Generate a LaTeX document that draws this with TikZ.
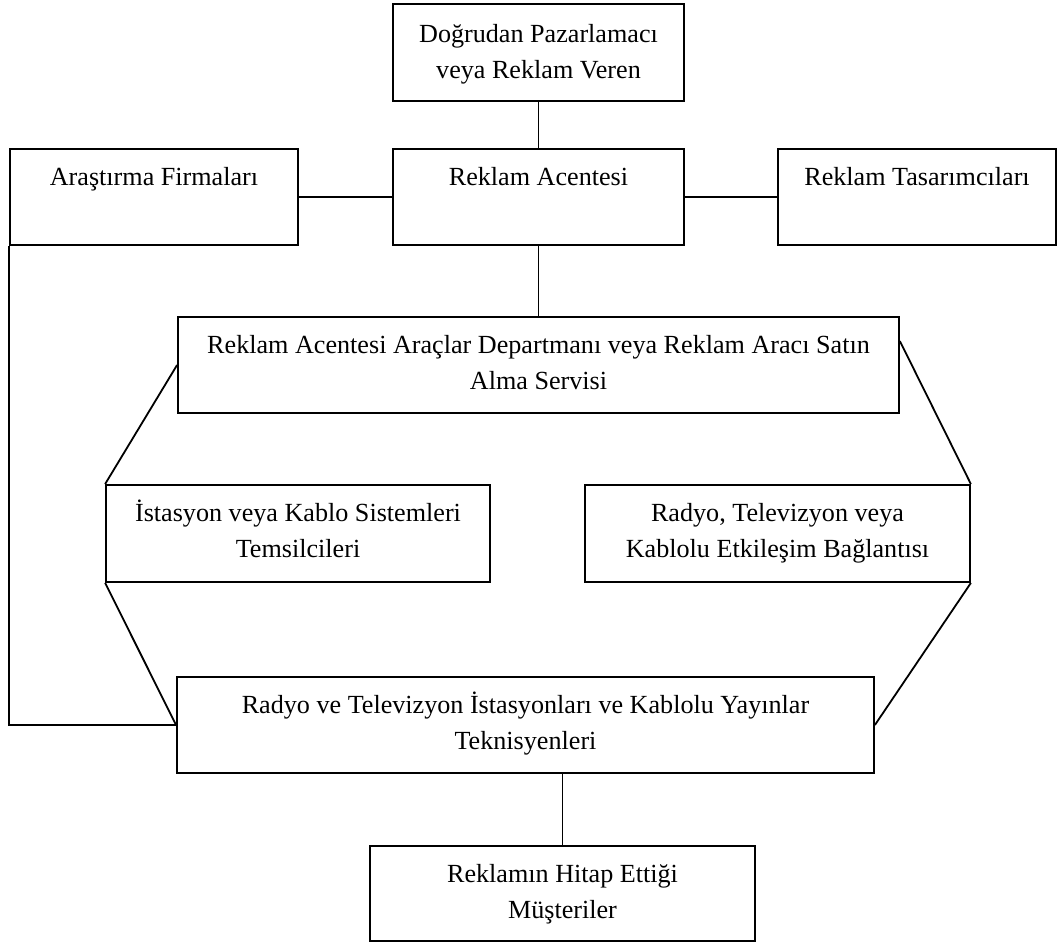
\documentclass[tikz,border=0pt]{standalone}
\usepackage{fontspec}
\setmainfont{Liberation Serif}
\usetikzlibrary{fit}
\begin{document}
\begin{tikzpicture}[x=0.75pt,y=-0.75pt,
  box/.style={draw=black, line width=1.35pt, inner sep=0pt},
  lbl/.style={anchor=north, inner sep=0pt, align=center, font=\fontsize{19.6}{27}\selectfont},
  conn/.style={draw=black, line width=1.35pt}]
\useasboundingbox (0,0) rectangle (1058,942);
% boxes
\node[box, fit={(393,4) (684,101)}] (top) {};
\node[box, fit={(393,149) (684,245)}] (ac) {};
\node[box, fit={(10,149) (298,245)}] (ar) {};
\node[box, fit={(778,149) (1056,245)}] (ts) {};
\node[box, fit={(178,317) (899,413)}] (md) {};
\node[box, fit={(106,485) (490,582)}] (is) {};
\node[box, fit={(585,485) (970,582)}] (ra) {};
\node[box, fit={(177,677) (874,773)}] (yy) {};
\node[box, fit={(370,846) (755,941)}] (ms) {};
% labels
\node[lbl] (topT) at (top.north) {\rule{0pt}{29pt}Doğrudan Pazarlamacı\\veya Reklam Veren};
\node[lbl] (acT) at (ac.north) {\rule{0pt}{27.5pt}Reklam Acentesi};
\node[lbl] (arT) at (ar.north) {\rule{0pt}{27.5pt}Araştırma Firmaları};
\node[lbl] (tsT) at (ts.north) {\rule{0pt}{27.5pt}Reklam Tasarımcıları};
\node[lbl] (mdT) at (md.north) {\rule{0pt}{27.5pt}Reklam Acentesi Araçlar Departmanı veya Reklam Aracı Satın\\Alma Servisi};
\node[lbl] (isT) at (is.north) {\rule{0pt}{27.5pt}İstasyon veya Kablo Sistemleri\\Temsilcileri};
\node[lbl] (raT) at (ra.north) {\rule{0pt}{27.5pt}Radyo, Televizyon veya\\Kablolu Etkileşim Bağlantısı};
\node[lbl] (yyT) at (yy.north) {\rule{0pt}{27.5pt}Radyo ve Televizyon İstasyonları ve Kablolu Yayınlar\\Teknisyenleri};
\node[lbl] (msT) at (ms.north) {\rule{0pt}{27.5pt}Reklamın Hitap Ettiği\\Müşteriler};
% connectors
\draw[conn] (top.south) -- (ac.north);
\draw[conn] (ar.east) -- (ac.west);
\draw[conn] (ac.east) -- (ts.west);
\draw[conn] (ac.south) -- (ac.south |- md.north);
\draw[conn] (md.west) -- (is.north west);
\draw[conn] ([yshift=-18.75pt]md.north east) -- (ra.north east);
\draw[conn] (is.south west) -- (yy.west);
\draw[conn] (ra.south east) -- (yy.east);
\draw[conn] (ar.south west) |- (yy.west);
\draw[conn] (ms.north) -- (ms.north |- yy.south);
\end{tikzpicture}
\end{document}
